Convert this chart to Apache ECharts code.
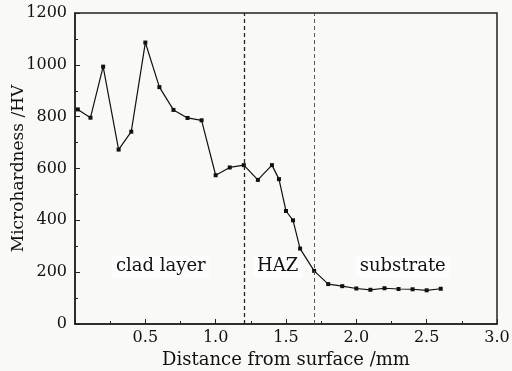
<!DOCTYPE html>
<html>
<head>
<meta charset="utf-8">
<script src="https://cdn.jsdelivr.net/npm/echarts@6/dist/echarts.min.js"></script>
<style>
  html, body { margin: 0; padding: 0; background: #f9f9f8; }
  #chart { width: 512px; height: 371px; }
</style>
</head>
<body>
<div id="chart"></div>
<script>
// distance from surface (mm) and microhardness (HV)
var distance = [0.02, 0.11, 0.20, 0.31, 0.40, 0.50, 0.60, 0.70, 0.80, 0.90,
  1.00, 1.10, 1.20, 1.30, 1.40, 1.45, 1.50, 1.55, 1.60, 1.70,
  1.80, 1.90, 2.00, 2.10, 2.20, 2.30, 2.40, 2.50, 2.60]
var hardness = [828, 796, 993, 673, 742, 1086, 914, 826, 795, 786,
  574, 604, 613, 556, 613, 559, 436, 400, 291, 205,
  154, 146, 137, 132, 138, 135, 134, 130, 136]

var boundaries = [1.2, 1.7]
var zoneNames = ['clad layer', 'HAZ', 'substrate']
var zoneX = [0.61, 1.44, 2.33]
var zoneY = 222

var serif = 'DejaVu Serif'

var chart = echarts.init(document.getElementById('chart'))

chart.setOption({
  backgroundColor: '#f9f9f8',
  animation: false,
  textStyle: { fontFamily: serif },
  grid: {
    left: 75,
    right: 15,
    top: 13,
    bottom: 47,
    outerBoundsMode: 'none',
    containLabel: false,
    show: true,
    borderColor: '#222',
    borderWidth: 1.5,
    backgroundColor: '#f9f9f8'
  },
  xAxis: {
    type: 'value',
    min: 0,
    max: 3,
    interval: 0.5,
    name: 'Distance from surface /mm',
    nameLocation: 'middle',
    nameGap: 27,
    nameTextStyle: { fontFamily: serif, fontSize: 18, color: '#111' },
    axisLine: { lineStyle: { color: '#222', width: 1.5 } },
    axisTick: { inside: true, length: 5, lineStyle: { color: '#222' } },
    minorTick: { show: true, splitNumber: 2, length: 3, lineStyle: { color: '#222' } },
    splitLine: { show: false },
    axisLabel: {
      fontFamily: serif, fontSize: 16, color: '#111', margin: 6,
      showMinLabel: false,
      formatter: function (v) { return v.toFixed(1) }
    }
  },
  yAxis: {
    type: 'value',
    min: 0,
    max: 1200,
    interval: 200,
    name: 'Microhardness /HV',
    nameLocation: 'middle',
    nameGap: 48,
    nameMoveOverlap: false,
    nameTextStyle: { fontFamily: serif, fontSize: 17, color: '#111' },
    axisLine: { show: true, lineStyle: { color: '#222', width: 1.5 } },
    axisTick: { show: true, inside: true, length: 5, lineStyle: { color: '#222' } },
    minorTick: { show: true, splitNumber: 2, length: 3, lineStyle: { color: '#222' } },
    splitLine: { show: false },
    axisLabel: {
      fontFamily: serif, fontSize: 16, color: '#111', margin: 8,
      formatter: function (v) { return String(v) }
    }
  },
  series: [
    {
      type: 'line',
      data: distance.map(function (d, i) { return [d, hardness[i]] }),
      symbol: 'rect',
      symbolSize: 4,
      lineStyle: { color: '#111', width: 1.2 },
      itemStyle: { color: '#111' },
      markLine: {
        silent: true,
        symbol: 'none',
        label: { show: false },
        data: boundaries.map(function (b, i) {
          return {
            xAxis: b,
            lineStyle: {
              type: [4, 3],
              width: i === 0 ? 1.3 : 1,
              color: i === 0 ? '#222' : '#555'
            }
          }
        })
      },
      markPoint: {
        silent: true,
        symbol: 'rect',
        symbolSize: 1,
        itemStyle: { color: 'transparent' },
        label: {
          show: true,
          position: 'inside',
          fontFamily: serif,
          fontSize: 18,
          color: '#111',
          backgroundColor: '#fdfdfd',
          padding: [2, 4],
          formatter: function (p) { return p.name }
        },
        data: zoneNames.map(function (n, i) {
          return { name: n, coord: [zoneX[i], zoneY] }
        })
      }
    }
  ]
})
</script>
</body>
</html>
